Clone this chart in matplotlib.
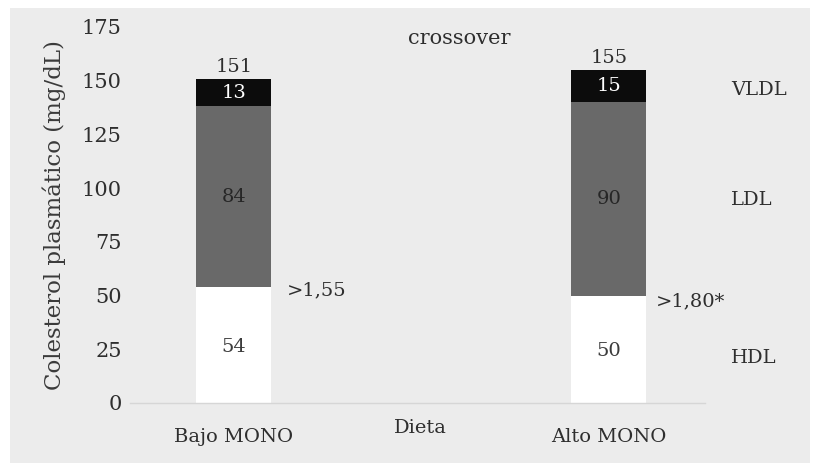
"""
Colesterol plasmático por fracción de lipoproteína, dieta baja vs alta en MONO
"""

import matplotlib.pyplot as plt
from matplotlib.patches import Rectangle

# data
dietas = ["Bajo MONO", "Alto MONO"]
hdl = [54, 50]
ldl = [84, 90]
vldl = [13, 15]
totales = [151, 155]
ratios = [">1,55", ">1,80*"]
fracciones = ["HDL", "LDL", "VLDL"]
y_ticks = [0, 25, 50, 75, 100, 125, 150, 175]

FONT = "DejaVu Serif"
TXT = "#2e2e2e"
FS = 14

fig = plt.figure(figsize=(8.2, 4.72), dpi=100)
fig.patch.set_facecolor("white")

# grey panel behind the chart
panel = Rectangle((10 / 820, 9 / 472), 800 / 820, 455 / 472,
                  transform=fig.transFigure, facecolor="#ececec",
                  edgecolor="none", zorder=-10)
fig.add_artist(panel)

ax = fig.add_axes([130 / 820, 69 / 472, 575 / 820, 376 / 472])
ax.set_facecolor("none")
ax.set_zorder(5)

x = [0, 1]
w = 0.2
ax.bar(x, hdl, width=w, color="white", zorder=2)
ax.bar(x, ldl, width=w, bottom=hdl, color="#696969", zorder=2)
bottom_vldl = [h + l for h, l in zip(hdl, ldl)]
ax.bar(x, vldl, width=w, bottom=bottom_vldl, color="#0c0c0c", zorder=2)

for i in range(len(x)):
    ax.text(x[i], hdl[i] / 2 - 1, str(hdl[i]), ha="center", va="center",
            fontsize=FS, color="#3c3c3c", family=FONT, zorder=3)
    ax.text(x[i], hdl[i] + ldl[i] / 2, str(ldl[i]), ha="center", va="center",
            fontsize=FS, color="#262626", family=FONT, zorder=3)
    ax.text(x[i], bottom_vldl[i] + vldl[i] / 2, str(vldl[i]), ha="center",
            va="center", fontsize=FS, color="white", family=FONT, zorder=3)
    ax.text(x[i], totales[i] + 1.2, str(totales[i]), ha="center", va="bottom",
            fontsize=FS, color=TXT, family=FONT, zorder=3)

# ratio labels next to the HDL/LDL boundary
ax.text(x[0] + w / 2 + 0.04, 52.5, ratios[0], ha="left", va="center",
        fontsize=FS, color=TXT, family=FONT)
ax.text(x[1] + w / 2 + 0.025, 47.5, ratios[1], ha="left", va="center",
        fontsize=FS, color=TXT, family=FONT)

# fraction names on the right
frac_y = [21, 94.5, 145.7]
for name, yy in zip(fracciones, frac_y):
    ax.text(1.325, yy, name, ha="left", va="center", fontsize=FS,
            color=TXT, family=FONT, clip_on=False)

ax.text(0.6, 169.5, "crossover", ha="center", va="center", fontsize=FS + 1,
        color=TXT, family=FONT)
ax.text(0.496, -11.6, "Dieta", ha="center", va="center", fontsize=FS,
        color=TXT, family=FONT, clip_on=False)

ax.set_xlim(-0.2773, 1.256)
ax.set_ylim(0, 175)
ax.set_xticks(x)
ax.set_xticklabels(dietas, family=FONT, fontsize=FS, color=TXT)
ax.set_yticks(y_ticks)
ax.set_yticklabels([str(t) for t in y_ticks], family=FONT, fontsize=FS + 1, color=TXT)
ax.tick_params(axis="both", length=0)
ax.tick_params(axis="y", pad=6)
ax.tick_params(axis="x", pad=18)

ax.set_ylabel("Colesterol plasmático (mg/dL)", family=FONT, fontsize=16.5,
              color="#3a3a3a", labelpad=11)

for side in ["top", "right", "left"]:
    ax.spines[side].set_visible(False)
ax.spines["bottom"].set_color("#d6d6d6")
ax.spines["bottom"].set_linewidth(1.0)

fig.savefig("out.png", dpi=100, facecolor=fig.get_facecolor())
